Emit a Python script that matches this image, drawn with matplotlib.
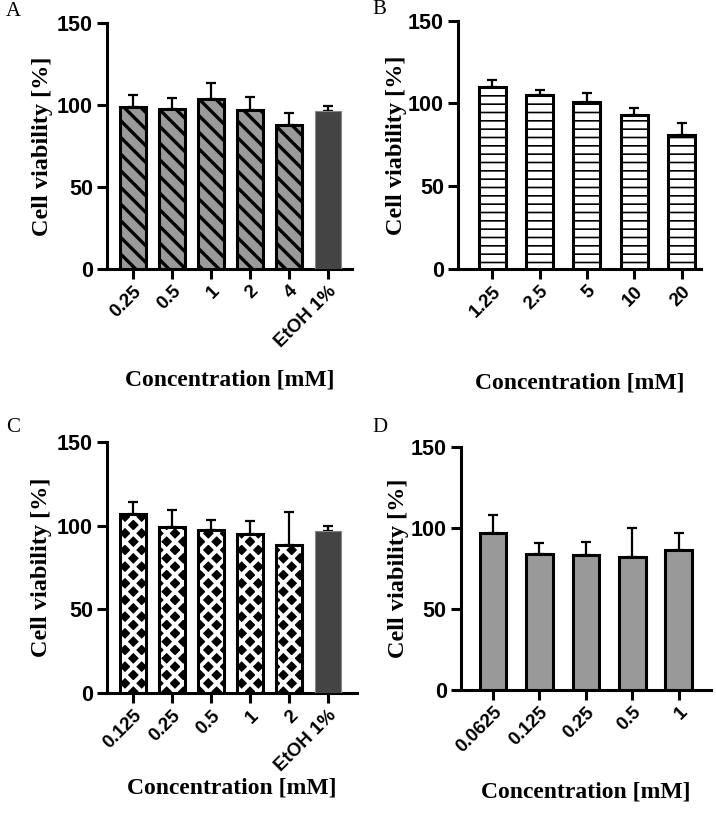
import matplotlib.pyplot as plt
import numpy as np

# panel A
a_labels = ['0.25', '0.5', '1', '2', '4', 'EtOH 1%']
a_means = [98.6, 97.4, 103.5, 96.6, 87.4, 96.4]
a_sd = [7.4, 6.6, 9.5, 8.1, 7.9, 3.0]

# panel B
b_labels = ['1.25', '2.5', '5', '10', '20']
b_means = [109.9, 105.2, 100.8, 93.3, 80.8]
b_sd = [4.0, 3.1, 5.4, 4.1, 7.7]

# panel C
c_labels = ['0.125', '0.25', '0.5', '1', '2', 'EtOH 1%']
c_means = [106.8, 99.2, 97.2, 95.2, 88.5, 96.8]
c_sd = [7.2, 10.1, 6.2, 7.4, 19.7, 3.0]

# panel D
d_labels = ['0.0625', '0.125', '0.25', '0.5', '1']
d_means = [97.1, 83.9, 83.7, 82.3, 86.6]
d_sd = [11.1, 7.0, 7.6, 17.7, 10.3]

TICK_FONT = 'Liberation Sans'
LABEL_FONT = 'Liberation Serif'


def draw_panel(ax, labels, means, sd, style, width, xlim, has_etoh, xlab_y, ylab_x):
    x = np.arange(len(labels))
    n = len(labels) - 1 if has_etoh else len(labels)
    for i in range(n):
        if style == 'diag':
            plt.rcParams['hatch.linewidth'] = 2.4
            ax.bar(x[i], means[i], width=width, color='#9a9a9a', edgecolor='black',
                   linewidth=2.2, hatch='\\\\', zorder=3)
        elif style == 'horiz':
            plt.rcParams['hatch.linewidth'] = 1.2
            ax.bar(x[i], means[i], width=width, color='white', edgecolor='black',
                   linewidth=2.2, hatch='--', zorder=3)
        elif style == 'diamond':
            # black fill with thick white cross-hatch leaves black diamonds
            plt.rcParams['hatch.linewidth'] = 2.9
            ax.bar(x[i], means[i], width=width, color='black', edgecolor='white',
                   linewidth=0, hatch='xx', zorder=3)
            ax.bar(x[i], means[i], width=width, fill=False, edgecolor='black',
                   linewidth=2.2, zorder=4)
        else:
            ax.bar(x[i], means[i], width=width, color='#999999', edgecolor='black',
                   linewidth=2.2, zorder=3)
    if has_etoh:
        ax.bar(x[-1], means[-1], width=width * 1.05, color='#444444',
               edgecolor='#888888', linewidth=0.8, zorder=3)
    ax.errorbar(x, means, yerr=[np.zeros(len(sd)), sd], fmt='none',
                ecolor='black', elinewidth=1.6, capsize=3.8, capthick=1.6, zorder=2)
    ax.set_ylim(0, 150)
    ax.set_xlim(*xlim)
    ax.set_yticks([0, 50, 100, 150])
    ax.set_xticks(x)
    ax.set_xticklabels(labels, rotation=45, ha='right', rotation_mode='anchor')
    for lab in ax.get_xticklabels():
        lab.set_fontfamily(TICK_FONT)
        lab.set_fontweight('bold')
        lab.set_fontsize(13.5)
    for lab in ax.get_yticklabels():
        lab.set_fontfamily(TICK_FONT)
        lab.set_fontweight('bold')
        lab.set_fontsize(15.5)
    ax.spines['top'].set_visible(False)
    ax.spines['right'].set_visible(False)
    ax.spines['left'].set_linewidth(2.2)
    ax.spines['bottom'].set_linewidth(2.2)
    ax.tick_params(width=2.2, length=7, pad=3)
    ax.set_ylabel('Cell viability [%]', fontfamily=LABEL_FONT, fontweight='bold',
                  fontsize=17.5, va='center')
    ax.yaxis.set_label_coords(ylab_x, 0.5)
    ax.set_xlabel('Concentration [mM]', fontfamily=LABEL_FONT, fontweight='bold',
                  fontsize=17, va='center')
    ax.xaxis.set_label_coords(0.5, xlab_y)


fig = plt.figure(figsize=(7.16, 8.19), dpi=100)
W, H = 716, 819


def add_axes(left, right, top, bottom):
    return fig.add_axes([left / W, 1 - bottom / H, (right - left) / W, (bottom - top) / H])


ax_a = add_axes(107, 352, 22.7, 269)
ax_b = add_axes(458, 701, 20.7, 269)
ax_c = add_axes(107, 357, 441.7, 693.3)
ax_d = add_axes(460.7, 711, 447.3, 690)

draw_panel(ax_a, a_labels, a_means, a_sd, 'diag', 0.65, (-0.667, 5.615), True, -0.45, -0.265)
draw_panel(ax_b, b_labels, b_means, b_sd, 'horiz', 0.57, (-0.725, 4.41), False, -0.46, -0.255)
draw_panel(ax_c, c_labels, c_means, c_sd, 'diamond', 0.65, (-0.667, 5.74), True, -0.377, -0.26)
draw_panel(ax_d, d_labels, d_means, d_sd, 'plain', 0.575, (-0.70, 4.70), False, -0.42, -0.25)

for letter, px, py in [('A', 6, 12), ('B', 372, 10), ('C', 6, 427), ('D', 372, 427)]:
    fig.text(px / W, 1 - py / H, letter, fontfamily=LABEL_FONT, fontsize=15,
             ha='left', va='center')

fig.savefig('out.png', dpi=100)
